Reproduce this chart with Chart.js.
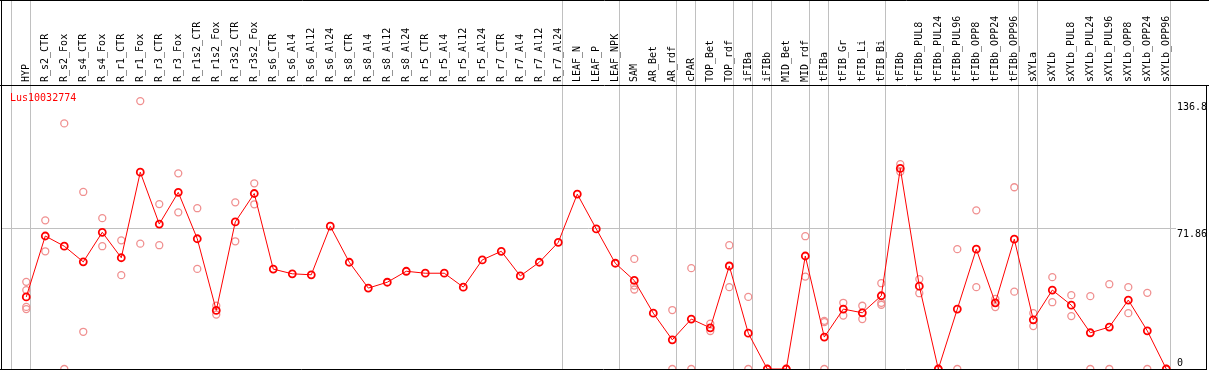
<!DOCTYPE html>
<html>
<head>
<meta charset="utf-8">
<script src="https://cdn.jsdelivr.net/npm/chart.js@4/dist/chart.umd.min.js"></script>
<style>
    html, body { margin: 0; padding: 0; background: #fff; }
    #wrap { width: 1209px; height: 370px; }
</style>
</head>
<body>
<div id="wrap"><canvas id="chart" width="1209" height="370"></canvas></div>
<script>
// Samples (column order)
const categories = [
    'HYP', 'R_s2_CTR', 'R_s2_Fox', 'R_s4_CTR', 'R_s4_Fox', 'R_r1_CTR', 'R_r1_Fox', 'R_r3_CTR', 'R_r3_Fox',
    'R_r1s2_CTR', 'R_r1s2_Fox', 'R_r3s2_CTR', 'R_r3s2_Fox',
    'R_s6_CTR', 'R_s6_Al4', 'R_s6_Al12', 'R_s6_Al24', 'R_s8_CTR', 'R_s8_Al4', 'R_s8_Al12', 'R_s8_Al24',
    'R_r5_CTR', 'R_r5_Al4', 'R_r5_Al12', 'R_r5_Al24', 'R_r7_CTR', 'R_r7_Al4', 'R_r7_Al12', 'R_r7_Al24',
    'LEAF_N', 'LEAF_P', 'LEAF_NPK', 'SAM', 'AR_Bet', 'AR_rdf', 'cPAR', 'TOP_Bet', 'TOP_rdf',
    'iFIBa', 'iFIBb', 'MID_Bet', 'MID_rdf', 'tFIBa', 'tFIB_Gr', 'tFIB_Li', 'tFIB_Bi',
    'tFIBb', 'tFIBb_PUL8', 'tFIBb_PUL24', 'tFIBb_PUL96', 'tFIBb_OPP8', 'tFIBb_OPP24', 'tFIBb_OPP96',
    'sXYLa', 'sXYLb', 'sXYLb_PUL8', 'sXYLb_PUL24', 'sXYLb_PUL96', 'sXYLb_OPP8', 'sXYLb_OPP24', 'sXYLb_OPP96'
];

// Mean expression per sample
const meanValues = [
    36.8, 67.9, 62.7, 54.7, 69.8, 56.8, 100.5, 74.0, 90.2,
    66.5, 29.9, 75.1, 89.6,
    51.0, 48.6, 48.1, 72.9, 54.5, 41.3, 44.3, 49.9,
    48.9, 48.9, 41.8, 55.7, 60.1, 47.5, 54.5, 64.7,
    89.3, 71.5, 54.0, 45.2, 28.5, 14.9, 25.5, 21.0, 52.6,
    18.3, 0, 0, 57.7, 16.3, 30.6, 28.7, 37.4,
    102.4, 42.3, 0, 30.6, 61.2, 33.8, 66.3,
    25.1, 40.3, 32.6, 18.5, 21.4, 35.2, 19.5, 0
];

// Individual replicates per sample
const replicates = [
    [44.5, 40.3, 31.7, 30.6], [75.9, 60.1], [125.4, 0], [90.4, 19.0], [77.0, 62.7], [65.7, 47.9],
    [136.8, 64.0], [84.2, 63.2], [99.9, 80.0],
    [82.1, 51.1], [32.3, 27.8], [85.1, 65.2], [94.8, 84.1],
    [], [], [], [], [], [], [], [],
    [], [], [], [], [], [], [], [],
    [], [], [], [56.2, 42.6, 40.6], [], [30.1, 0], [51.5, 0], [23.2, 19.4], [63.2, 41.8],
    [36.8, 0], [0, 0], [0, 0], [67.8, 47.2], [24.6, 23.9, 0], [33.8, 27.3], [32.3, 25.5], [43.8, 33.8, 32.8],
    [104.6, 100.7], [45.9, 38.7], [0, 0], [61.2, 0], [81.0, 41.8], [35.8, 31.6], [92.8, 39.5],
    [28.5, 21.9], [46.9, 34.1], [37.7, 27.0], [37.2, 0], [43.3, 0], [41.8, 28.5], [38.9, 0], [0, 0]
];

// Group separators: drawn just after these columns
const separators = [-1, 0, 28, 31, 34, 35, 37, 38, 39, 41, 42, 45, 52, 53, 60];

const geneId = 'Lus10032774';
const yLabels = ['136.8', '71.86', '0'];
const gridValues = [71.86];

const X_MIN = -1.33;
const X_MAX = 60.51;
const Y_MAX = 145;

const MONO = '10px "DejaVu Sans Mono", monospace';
const GREY = '#c0c0c0';

// Frame, separators, header labels, value labels
const decorPlugin = {
    id: 'decor',
    beforeDatasetsDraw(chart) {
        const {ctx, scales: {x}} = chart;
        ctx.save();
        ctx.strokeStyle = GREY;
        ctx.lineWidth = 1;
        separators.forEach(i => {
            const px = Math.round(x.getPixelForValue(i) + 4) + 0.5;
            ctx.beginPath();
            ctx.moveTo(px, 0);
            ctx.lineTo(px, chart.chartArea.bottom);
            ctx.stroke();
        });
        ctx.restore();
    },
    afterDraw(chart) {
        const {ctx, chartArea, scales: {x, y}} = chart;
        const W = chart.width;
        ctx.save();

        // black frame
        ctx.strokeStyle = '#000';
        ctx.lineWidth = 1;
        ctx.beginPath();
        ctx.moveTo(0, 0.5); ctx.lineTo(W, 0.5);
        ctx.moveTo(0, chartArea.top + 0.5); ctx.lineTo(W, chartArea.top + 0.5);
        ctx.moveTo(0, chartArea.bottom + 0.5); ctx.lineTo(W - 2, chartArea.bottom + 0.5);
        ctx.moveTo(1.5, 0); ctx.lineTo(1.5, chartArea.bottom);
        ctx.moveTo(W - 2.5, chartArea.top); ctx.lineTo(W - 2.5, chartArea.bottom + 1);
        ctx.stroke();

        // rotated sample names
        ctx.font = MONO;
        ctx.fillStyle = '#000';
        ctx.textAlign = 'left';
        ctx.textBaseline = 'middle';
        categories.forEach((name, i) => {
            ctx.save();
            ctx.translate(x.getPixelForValue(i), chartArea.top - 3);
            ctx.rotate(-Math.PI / 2);
            ctx.fillText(name, 0, 0);
            ctx.restore();
        });

        // gene id
        ctx.fillStyle = '#ff0000';
        ctx.fillText(geneId, 10, chartArea.top + 13);

        // value labels on the right
        ctx.fillStyle = '#000';
        const lx = chartArea.right + 1;
        yLabels.forEach(t => {
            const py = y.getPixelForValue(parseFloat(t));
            if (parseFloat(t) === 0) {
                ctx.textBaseline = 'bottom';
                ctx.fillText(t, lx, py - 1);
            } else {
                ctx.textBaseline = 'top';
                ctx.fillText(t, lx, py + 1);
            }
        });
        ctx.restore();
    }
};

new Chart(document.getElementById('chart'), {
    type: 'line',
    data: {
        datasets: [{
            label: 'mean',
            data: meanValues.map((v, i) => ({x: i, y: v})),
            borderColor: '#ff0000',
            borderWidth: 1,
            tension: 0,
            pointRadius: 3.5,
            pointBorderWidth: 1.8,
            pointBorderColor: '#ff0000',
            pointBackgroundColor: 'rgba(0,0,0,0)',
        }, {
            label: 'replicates',
            data: replicates.flatMap((arr, i) => arr.map(v => ({x: i, y: v}))),
            showLine: false,
            pointRadius: 3.5,
            pointBorderWidth: 1.3,
            pointBorderColor: '#f09090',
            pointBackgroundColor: 'rgba(0,0,0,0)',
        }]
    },
    options: {
        responsive: false,
        animation: false,
        devicePixelRatio: 1,
        layout: {autoPadding: false, padding: {left: 1, top: 85, right: 33, bottom: 1}},
        plugins: {legend: {display: false}, tooltip: {enabled: false}},
        scales: {
            x: {type: 'linear', min: X_MIN, max: X_MAX, display: false},
            y: {
                min: 0, max: Y_MAX, position: 'right',
                border: {display: false},
                grid: {color: GREY, lineWidth: 1, drawTicks: false},
                ticks: {display: false},
                afterBuildTicks: s => { s.ticks = gridValues.map(v => ({value: v})); }
            }
        }
    },
    plugins: [decorPlugin]
});
</script>
</body>
</html>
